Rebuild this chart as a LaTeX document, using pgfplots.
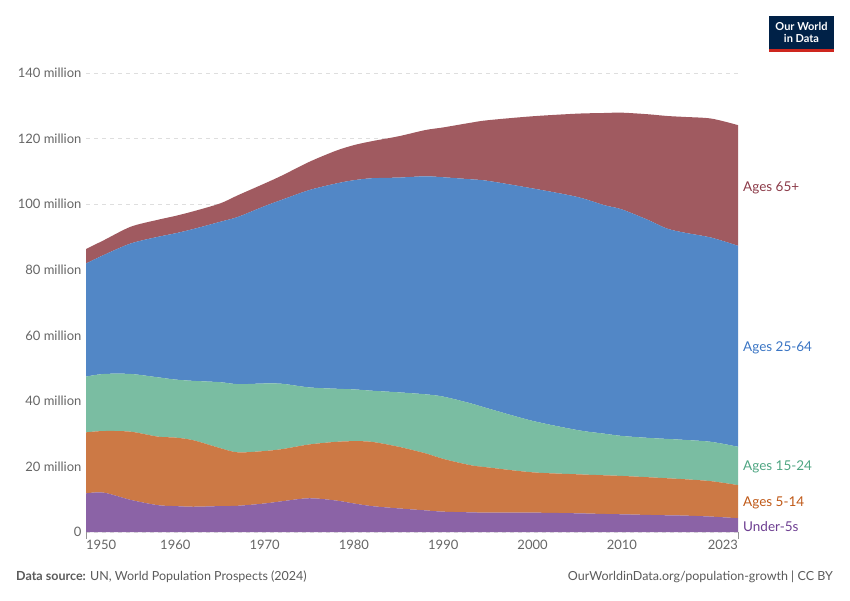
\documentclass[border=0pt]{standalone}
\usepackage{pgfplots}
\usepackage{pgfplotstable}
\pgfplotsset{compat=1.18}
\usepackage{fontspec}
\setmainfont{Lato}
\definecolor{cU}{HTML}{8B63A6}
\definecolor{cA}{HTML}{CC7945}
\definecolor{cB}{HTML}{7ABDA2}
\definecolor{cC}{HTML}{5287C6}
\definecolor{cD}{HTML}{A05A60}
\definecolor{tU}{HTML}{6D3E91}
\definecolor{tA}{HTML}{C05917}
\definecolor{tB}{HTML}{4FA683}
\definecolor{tC}{HTML}{3A75C4}
\definecolor{tD}{HTML}{8C3B49}
\definecolor{labgray}{HTML}{666666}
\definecolor{footgray}{HTML}{5B5B5B}
\definecolor{owidblue}{HTML}{002147}
\definecolor{owidred}{HTML}{CE261E}
\pgfplotstableread{
year u5 c514 c1524 c2564 c65
1950 11.8 18.6 17.0 34.5 4.4
1952 12.0 18.8 17.4 36.3 4.5
1955 9.8 20.8 17.6 39.8 5.1
1958 8.2 20.9 18.1 42.8 5.2
1960 7.9 20.9 17.7 44.6 5.3
1962 7.7 20.3 18.1 46.3 5.4
1965 7.9 17.7 20.1 48.9 5.6
1967 8.0 16.3 20.8 51.0 6.6
1970 8.7 16.0 20.6 54.1 6.9
1972 9.4 15.9 19.9 56.2 7.4
1975 10.3 16.4 17.4 60.2 8.6
1978 9.6 17.9 16.2 62.6 10.0
1980 8.7 19.0 15.8 63.8 10.7
1982 7.9 19.6 15.6 64.8 11.3
1985 7.2 18.8 16.6 65.5 12.6
1988 6.6 17.4 18.0 66.5 14.1
1990 6.2 16.1 19.0 66.9 15.2
1993 6.0 14.4 18.9 68.3 17.2
1995 5.9 13.8 18.0 69.4 18.5
2000 5.9 12.3 15.7 70.9 22.0
2005 5.7 11.9 13.5 71.1 25.4
2008 5.5 11.8 12.7 69.7 28.1
2010 5.4 11.7 12.2 69.1 29.5
2013 5.2 11.5 12.0 66.4 32.3
2015 5.1 11.3 12.0 64.2 34.3
2017 5.0 11.1 12.0 63.2 35.3
2020 4.7 10.8 12.0 62.3 36.3
2023 4.2 10.1 11.7 61.3 36.8
}\japan
\begin{document}
\begin{tikzpicture}
\path[use as bounding box, fill=white] (0pt,0pt) rectangle (850pt,600pt);
\begin{axis}[
  at={(86pt,68pt)}, anchor=south west, scale only axis,
  width=652pt, height=459pt,
  xmin=1950, xmax=2023, ymin=0, ymax=140,
  axis x line*=bottom, axis y line*=left,
  axis line style={draw=none},
  major tick length=0pt,
  stack plots=y,
  ytick={0,20,40,60,80,100,120,140},
  yticklabels={0,20 million,40 million,60 million,80 million,100 million,120 million,140 million},
  xtick={1950,1960,1970,1980,1990,2000,2010,2023},
  xticklabels={\makebox[0pt][l]{1950},1960,1970,1980,1990,2000,2010,\makebox[0pt][r]{2023}},
  ymajorgrids,
  grid style={draw=black!13, dash pattern=on 4pt off 4pt, line width=0.8pt},
  tick label style={font=\fontsize{13}{13}\selectfont, text=labgray},
  yticklabel style={xshift=-1pt},
  xticklabel style={yshift=-5pt},
  clip=false,
]
\addplot[fill=cU, draw=none, smooth] table[x=year,y=u5]{\japan} \closedcycle;
\addplot[fill=cA, draw=none, smooth] table[x=year,y=c514]{\japan} \closedcycle;
\addplot[fill=cB, draw=none, smooth] table[x=year,y=c1524]{\japan} \closedcycle;
\addplot[fill=cC, draw=none, smooth] table[x=year,y=c2564]{\japan} \closedcycle;
\addplot[fill=cD, draw=none, smooth] table[x=year,y=c65]{\japan} \closedcycle;
\end{axis}
\draw[labgray!70, line width=0.8pt] (86pt,68pt) -- (86pt,61pt);
\draw[labgray!70, line width=0.8pt] (738pt,68pt) -- (738pt,61pt);
\begin{scope}[every node/.style={anchor=west, inner sep=0pt, font=\fontsize{13.5}{14}\selectfont}]
\node[text=tD] at (743pt,412pt) {Ages 65+};
\node[text=tC] at (743pt,252pt) {Ages 25-64};
\node[text=tB] at (743pt,133.5pt) {Ages 15-24};
\node[text=tA] at (743pt,97.5pt) {Ages 5-14};
\node[text=tU] at (743pt,73.5pt) {Under-5s};
\end{scope}
\node[anchor=west, inner sep=0pt, text=footgray, font=\fontsize{12.5}{13}\selectfont] at (16pt,23pt) {\textbf{Data source:} UN, World Population Prospects (2024)};
\node[anchor=east, inner sep=0pt, text=footgray, font=\fontsize{12.5}{13}\selectfont] at (833pt,23pt) {OurWorldinData.org/population-growth | CC BY};
\fill[owidblue] (769pt,551pt) rectangle (834pt,584pt);
\fill[owidred] (769pt,548pt) rectangle (834pt,551pt);
\node[text=white, align=center, inner sep=0pt, font=\fontsize{11}{12}\selectfont\bfseries] at (801.5pt,567.5pt) {Our World\\in Data};
\end{tikzpicture}
\end{document}
